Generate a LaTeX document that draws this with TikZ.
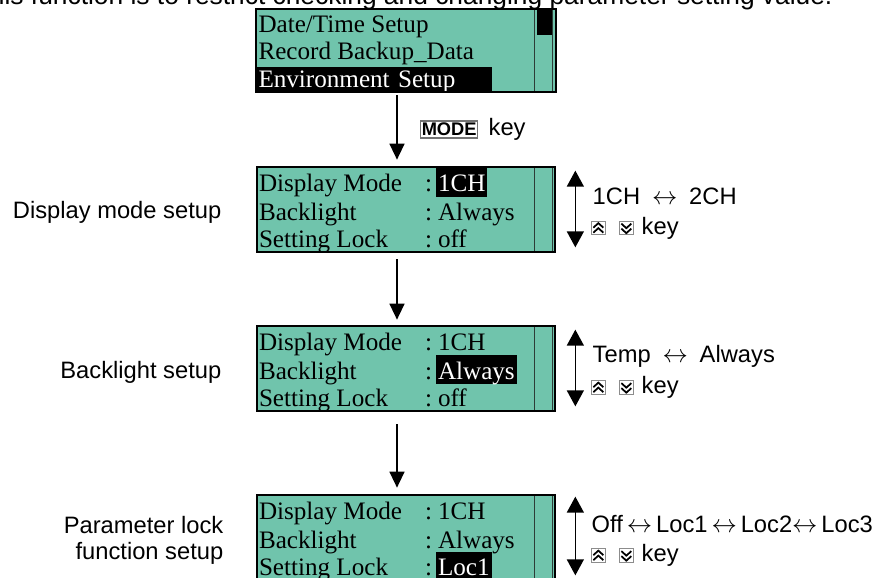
\documentclass[tikz,border=0pt]{standalone}
\usepackage{fontspec}
\setmainfont{Liberation Sans}
\newfontfamily\lcdfont{Liberation Serif}
\usepackage{xcolor}
\usepackage{tikz}
\usetikzlibrary{arrows.meta,positioning}

\definecolor{lcdgreen}{RGB}{112,196,172}
\definecolor{lcdline}{RGB}{45,60,55}
\newcommand{\lrarrow}{$\leftrightarrow$}

\tikzset{
  screen/.style={fill=lcdgreen, minimum width=5.96cm, minimum height=1.70cm, inner sep=0pt},
  lcdframe/.style={draw=black, line width=1.1pt},
  bar/.style={draw=lcdline, line width=0.6pt},
  entry/.style={anchor=base west, inner sep=0pt, font=\lcdfont\fontsize{14.3}{14.3}\selectfont},
  val/.style={anchor=base west, inner xsep=0.04cm, inner ysep=0pt, text height=0.48cm, text depth=0.10cm, font=\lcdfont\fontsize{14.3}{14.3}\selectfont},
  sel/.style={fill=black, text=white},
  flow/.style={-{Triangle[length=0.32cm,width=0.30cm]}, line width=0.8pt},
  toggle/.style={{Triangle[length=0.32cm,width=0.34cm]}-{Triangle[length=0.32cm,width=0.34cm]}, line width=0.8pt},
  steplabel/.style={font=\fontsize{13.5}{15}\selectfont, inner sep=0pt},
  hint/.style={font=\fontsize{13.5}{15}\selectfont, inner sep=0pt},
  keycap/.style={draw=black!55, line width=0.8pt, fill=white, inner xsep=0.6pt, inner ysep=1.2pt, font=\bfseries\fontsize{10.4}{10.4}\selectfont},
  upkey/.pic={
    \draw[black!45, line width=0.5pt, fill=white] (-0.135,-0.135) rectangle (0.135,0.135);
    \draw[line width=1pt] (-0.10,0.01) -- (0,0.10) -- (0.10,0.01);
    \draw[line width=1pt] (-0.10,-0.09) -- (0,0) -- (0.10,-0.09);
  },
  downkey/.pic={
    \draw[black!45, line width=0.5pt, fill=white] (-0.135,-0.135) rectangle (0.135,0.135);
    \draw[line width=1pt] (-0.10,-0.01) -- (0,-0.10) -- (0.10,-0.01);
    \draw[line width=1pt] (-0.10,0.09) -- (0,0) -- (0.10,0.09);
  }
}

\begin{document}
\begin{tikzpicture}
  \useasboundingbox (0,0) rectangle (17.54,-11.56);
  \clip (0,0) rectangle (17.54,-11.56);

  % Intro line (cut at the top)
  \node[anchor=base west, inner sep=0pt, font=\fontsize{15}{15}\selectfont] (intro) at (-0.53,-0.10)
    {This function is to restrict checking and changing parameter setting value.};

  % Screen 1: menu
  \node[screen, minimum width=5.98cm, minimum height=1.66cm] (scr1) at (8.12,-1.01) {};
  \node[entry] (s1a) at ([shift={(0.04,-0.48)}]scr1.north west) {Date/Time Setup};
  \node[entry] (s1b) at ([shift={(0.04,-1.02)}]scr1.north west) {Record Backup\_Data};
  \node[val, sel, text height=0.42cm, text width=4.62cm, align=left] (s1c) at ([shift={(0,-1.58)}]scr1.north west) {Environment Setup};
  \draw[bar] ([xshift=-0.42cm]scr1.north east) -- ([xshift=-0.42cm]scr1.south east);
  \draw[bar] ([xshift=-0.06cm]scr1.north east) -- ([xshift=-0.06cm]scr1.south east);
  \fill ([shift={(-0.38,-0.02)}]scr1.north east) rectangle ([shift={(-0.08,-0.52)}]scr1.north east);
  \draw[lcdframe] (scr1.north west) rectangle (scr1.south east);

  % Screen 2: display mode
  \node[screen] (scr2) at (8.12,-4.19) {};
  \node[entry] (s2a) at ([shift={(0.04,-0.50)}]scr2.north west) {Display Mode};
  \node[entry] (s2b) at ([shift={(0.04,-1.07)}]scr2.north west) {Backlight};
  \node[entry] (s2c) at ([shift={(0.04,-1.62)}]scr2.north west) {Setting Lock};
  \node[entry] (c2a) at ([shift={(3.36,-0.50)}]scr2.north west) {:};
  \node[entry] (c2b) at ([shift={(3.36,-1.07)}]scr2.north west) {:};
  \node[entry] (c2c) at ([shift={(3.36,-1.62)}]scr2.north west) {:};
  \node[val, sel] (v2a) at ([shift={(3.58,-0.50)}]scr2.north west) {1CH};
  \node[val] (v2b) at ([shift={(3.58,-1.07)}]scr2.north west) {Always};
  \node[val] (v2c) at ([shift={(3.58,-1.62)}]scr2.north west) {off};
  \draw[bar] ([xshift=-0.42cm]scr2.north east) -- ([xshift=-0.42cm]scr2.south east);
  \draw[bar] ([xshift=-0.06cm]scr2.north east) -- ([xshift=-0.06cm]scr2.south east);
  \draw[lcdframe] (scr2.north west) rectangle (scr2.south east);

  % Screen 3: backlight
  \node[screen] (scr3) at (8.12,-7.37) {};
  \node[entry] (s3a) at ([shift={(0.04,-0.50)}]scr3.north west) {Display Mode};
  \node[entry] (s3b) at ([shift={(0.04,-1.07)}]scr3.north west) {Backlight};
  \node[entry] (s3c) at ([shift={(0.04,-1.62)}]scr3.north west) {Setting Lock};
  \node[entry] (c3a) at ([shift={(3.36,-0.50)}]scr3.north west) {:};
  \node[entry] (c3b) at ([shift={(3.36,-1.07)}]scr3.north west) {:};
  \node[entry] (c3c) at ([shift={(3.36,-1.62)}]scr3.north west) {:};
  \node[val] (v3a) at ([shift={(3.58,-0.50)}]scr3.north west) {1CH};
  \node[val, sel] (v3b) at ([shift={(3.58,-1.07)}]scr3.north west) {Always};
  \node[val] (v3c) at ([shift={(3.58,-1.62)}]scr3.north west) {off};
  \draw[bar] ([xshift=-0.42cm]scr3.north east) -- ([xshift=-0.42cm]scr3.south east);
  \draw[bar] ([xshift=-0.06cm]scr3.north east) -- ([xshift=-0.06cm]scr3.south east);
  \draw[lcdframe] (scr3.north west) rectangle (scr3.south east);

  % Screen 4: parameter lock
  \node[screen] (scr4) at (8.12,-10.75) {};
  \node[entry] (s4a) at ([shift={(0.04,-0.50)}]scr4.north west) {Display Mode};
  \node[entry] (s4b) at ([shift={(0.04,-1.07)}]scr4.north west) {Backlight};
  \node[entry] (s4c) at ([shift={(0.04,-1.62)}]scr4.north west) {Setting Lock};
  \node[entry] (c4a) at ([shift={(3.36,-0.50)}]scr4.north west) {:};
  \node[entry] (c4b) at ([shift={(3.36,-1.07)}]scr4.north west) {:};
  \node[entry] (c4c) at ([shift={(3.36,-1.62)}]scr4.north west) {:};
  \node[val] (v4a) at ([shift={(3.58,-0.50)}]scr4.north west) {1CH};
  \node[val] (v4b) at ([shift={(3.58,-1.07)}]scr4.north west) {Always};
  \node[val, sel] (v4c) at ([shift={(3.58,-1.62)}]scr4.north west) {Loc1};
  \draw[bar] ([xshift=-0.42cm]scr4.north east) -- ([xshift=-0.42cm]scr4.south east);
  \draw[bar] ([xshift=-0.06cm]scr4.north east) -- ([xshift=-0.06cm]scr4.south east);
  \draw[lcdframe] (scr4.north west) rectangle (scr4.south east);

  % Flow between screens
  \draw[flow, shorten <=0.06cm, shorten >=0.14cm] ([xshift=-0.18cm]scr1.south) -- ([xshift=-0.18cm]scr2.north) coordinate[midway] (m1);
  \draw[flow, shorten <=0.14cm, shorten >=0.12cm] ([xshift=-0.18cm]scr2.south) -- ([xshift=-0.18cm]scr3.north);
  \draw[flow, shorten <=0.26cm, shorten >=0.14cm] ([xshift=-0.18cm]scr3.south) -- ([xshift=-0.18cm]scr4.north);
  \node[keycap, right=0.46cm of m1] (modekey) {MODE};
  \node[hint, right=0.20cm of modekey] (modetext) {key};

  % Left labels
  \node[steplabel, anchor=east] (l2) at ([shift={(-0.70,-0.05)}]scr2.west) {Display mode setup};
  \node[steplabel, anchor=east] (l3) at ([shift={(-0.70,-0.07)}]scr3.west) {Backlight setup};
  \node[steplabel, anchor=east, align=right] (l4) at ([shift={(-0.66,-0.06)}]scr4.west) {Parameter lock\\function setup};

  % Right side: choices
  \draw[toggle] ([shift={(0.40,-0.08)}]scr2.north east) -- ([shift={(0.40,0.10)}]scr2.south east);
  \node[hint, anchor=west] (h2) at ([shift={(0.74,-0.60)}]scr2.north east) {1CH\enspace\lrarrow\enspace 2CH};
  \pic at ([shift={(0.86,-1.23)}]scr2.north east) {upkey};
  \pic at ([shift={(1.42,-1.23)}]scr2.north east) {downkey};
  \node[hint, anchor=west] (k2) at ([shift={(1.72,-1.23)}]scr2.north east) {key};

  \draw[toggle] ([shift={(0.40,-0.08)}]scr3.north east) -- ([shift={(0.40,0.10)}]scr3.south east);
  \node[hint, anchor=west] (h3) at ([shift={(0.74,-0.62)}]scr3.north east) {Temp\enspace\lrarrow\enspace Always};
  \pic at ([shift={(0.86,-1.24)}]scr3.north east) {upkey};
  \pic at ([shift={(1.42,-1.24)}]scr3.north east) {downkey};
  \node[hint, anchor=west] (k3) at ([shift={(1.72,-1.24)}]scr3.north east) {key};

  \draw[toggle] ([shift={(0.40,-0.04)}]scr4.north east) -- ([shift={(0.40,0.10)}]scr4.south east);
  \node[hint, anchor=west] (h4) at ([shift={(0.72,-0.58)}]scr4.north east) {Off\,\lrarrow\,Loc1\,\lrarrow\,Loc2\lrarrow\,Loc3};
  \pic at ([shift={(0.86,-1.22)}]scr4.north east) {upkey};
  \pic at ([shift={(1.42,-1.22)}]scr4.north east) {downkey};
  \node[hint, anchor=west] (k4) at ([shift={(1.72,-1.22)}]scr4.north east) {key};
\end{tikzpicture}
\end{document}
